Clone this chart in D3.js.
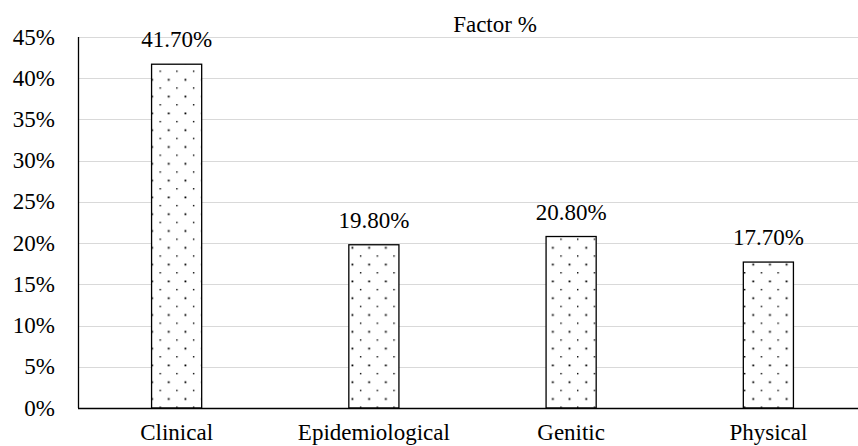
<!DOCTYPE html>
<html>
<head>
<meta charset="utf-8">
<script src="https://cdn.jsdelivr.net/npm/d3@7"></script>
<style>
  body { margin: 0; font-family: "Liberation Serif", "Times New Roman", Tinos; }
  svg text { font-family: "Liberation Serif", "Times New Roman", Tinos !important; }
</style>
</head>
<body>
<svg id="chart" width="858" height="446"></svg>
<script>
const title = "Factor %";
const categories = ["Clinical", "Epidemiological", "Genitic", "Physical"];
const values = [41.7, 19.8, 20.8, 17.7];
const yTicks = [0, 5, 10, 15, 20, 25, 30, 35, 40, 45];

const W = 858, H = 446;
const fontSize = 23;
const FONT = "Liberation Serif, Times New Roman, Tinos";

const svg = d3.select("#chart").attr("font-family", FONT);

const x = d3.scaleBand()
  .domain(categories)
  .range([78, 867])
  .paddingInner(0.746)
  .paddingOuter(0.373);

const y = d3.scaleLinear()
  .domain([0, 45])
  .range([408, 37]);

const defs = svg.append("defs");
const pat = defs.append("pattern")
  .attr("id", "dots")
  .attr("patternUnits", "userSpaceOnUse")
  .attr("x", 159.5).attr("y", 70.5)
  .attr("width", 16.7).attr("height", 16.8);
pat.append("rect").attr("width", 16.7).attr("height", 16.8).attr("fill", "#fff");
pat.append("rect").attr("x", 0).attr("y", 0).attr("width", 1.4).attr("height", 1.4).attr("fill", "#000");
pat.append("rect").attr("x", 8.35).attr("y", 8.4).attr("width", 1.8).attr("height", 1.8).attr("fill", "#000");

svg.append("g")
  .selectAll("line")
  .data(yTicks.filter(d => d > 0))
  .join("line")
  .attr("x1", 78).attr("x2", W)
  .attr("y1", d => Math.round(y(d)) + 0.5).attr("y2", d => Math.round(y(d)) + 0.5)
  .attr("stroke", "#d9d9d9").attr("stroke-width", 1);

svg.append("g")
  .selectAll("text")
  .data(yTicks)
  .join("text")
  .attr("x", 55)
  .attr("y", d => y(d) + 7.5)
  .attr("text-anchor", "end")
  .attr("font-size", fontSize)
  .attr("font-family", FONT)
  .text(d => d + "%");

svg.append("g")
  .selectAll("rect")
  .data(values)
  .join("rect")
  .attr("x", (d, i) => x(categories[i]))
  .attr("y", d => y(d))
  .attr("width", x.bandwidth())
  .attr("height", d => y(0) - y(d))
  .attr("fill", "url(#dots)")
  .attr("stroke", "#000")
  .attr("stroke-width", 1.3);

svg.append("g")
  .selectAll("text")
  .data(values)
  .join("text")
  .attr("x", (d, i) => x(categories[i]) + x.bandwidth() / 2)
  .attr("y", d => y(d) - 17)
  .attr("text-anchor", "middle")
  .attr("font-size", fontSize)
  .attr("font-family", FONT)
  .text(d => d3.format(".2f")(d) + "%");

svg.append("line")
  .attr("x1", 78.5).attr("x2", 78.5)
  .attr("y1", y(45)).attr("y2", y(0))
  .attr("stroke", "#000").attr("stroke-width", 1.3);

svg.append("line")
  .attr("x1", 78).attr("x2", W)
  .attr("y1", y(0) + 0.5).attr("y2", y(0) + 0.5)
  .attr("stroke", "#000").attr("stroke-width", 1.3);

svg.append("g")
  .selectAll("text")
  .data(categories)
  .join("text")
  .attr("x", d => x(d) + x.bandwidth() / 2)
  .attr("y", 440)
  .attr("text-anchor", "middle")
  .attr("font-size", fontSize)
  .attr("font-family", FONT)
  .text(d => d);

svg.append("text")
  .attr("x", 495)
  .attr("y", 32)
  .attr("text-anchor", "middle")
  .attr("font-size", fontSize)
  .attr("font-family", FONT)
  .text(title);
</script>
</body>
</html>
